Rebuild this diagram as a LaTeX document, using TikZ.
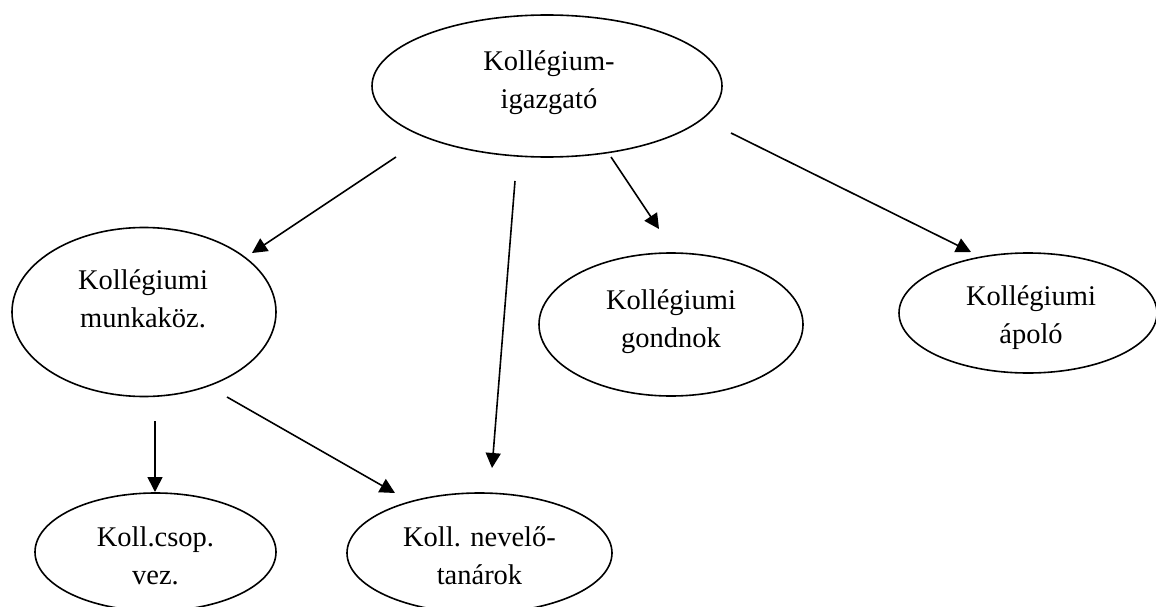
\documentclass[tikz,border=0pt]{standalone}
\usepackage{fontspec}
\setmainfont{Liberation Serif}
\usetikzlibrary{shapes.geometric,arrows.meta}
\begin{document}
\begin{tikzpicture}[x=1pt,y=-1pt,
  oval/.style={draw=black,line width=1.6pt,ellipse,inner sep=0pt},
  txt/.style={align=center,anchor=north,inner sep=0pt,font=\fontsize{28.5}{38}\selectfont},
  conn/.style={line width=1.6pt,-{Triangle[length=15pt,width=15pt]}}]
\useasboundingbox (0,0) rectangle (1156,607);
% ellipses
\node[oval,minimum width=350pt,minimum height=142pt] (dir) at (547,86) {};
\node[oval,minimum width=264pt,minimum height=169pt] (munk) at (144,312) {};
\node[oval,minimum width=264pt,minimum height=143pt] (gond) at (671,324.5) {};
\node[oval,minimum width=258pt,minimum height=120pt] (apolo) at (1028,313) {};
\node[oval,minimum width=241pt,minimum height=118pt] (csop) at (155.5,552) {};
\node[oval,minimum width=265pt,minimum height=120pt] (nev) at (479.5,553) {};
% texts
\node[txt] (dirT) at ([shift={(2,-35.5)}]dir.center) {Kollégium-\\igazgató};
\node[txt] (munkT) at ([shift={(-1,-42.5)}]munk.center) {Kollégiumi\\munkaköz.};
\node[txt] (gondT) at ([shift={(0,-35)}]gond.center) {Kollégiumi\\gondnok};
\node[txt] (apoloT) at ([shift={(3,-27.5)}]apolo.center) {Kollégiumi\\ápoló};
\node[txt] (csopT) at ([shift={(0,-25.5)}]csop.center) {Koll.csop.\\vez.};
\node[txt] (nevT) at ([shift={(0,-26.5)}]nev.center) {Koll. nevelő-\\tanárok};
% connector end points
\coordinate (a1s) at ([shift={(-151,71)}]dir.center);
\coordinate (a2s) at ([shift={(-32,95)}]dir.center);
\coordinate (a3s) at ([shift={(64,71)}]dir.center);
\coordinate (a4s) at ([shift={(184,47)}]dir.center);
\coordinate (a1e) at ([shift={(108,-59)}]munk.center);
\coordinate (a5s) at ([shift={(11,109)}]munk.center);
\coordinate (a6s) at ([shift={(83,85)}]munk.center);
\coordinate (a2e) at ([shift={(12.5,-85)}]nev.center);
\coordinate (a6e) at ([shift={(-84.5,-60)}]nev.center);
\coordinate (a3e) at ([shift={(-12,-95.5)}]gond.center);
\coordinate (a4e) at ([shift={(-57,-61)}]apolo.center);
\coordinate (a5e) at ([shift={(-0.5,-60)}]csop.center);
% connectors
\draw[conn] (a1s) -- (a1e);
\draw[conn] (a2s) -- (a2e);
\draw[conn] (a3s) -- (a3e);
\draw[conn] (a4s) -- (a4e);
\draw[conn] (a5s) -- (a5e);
\draw[conn] (a6s) -- (a6e);
\end{tikzpicture}
\end{document}
